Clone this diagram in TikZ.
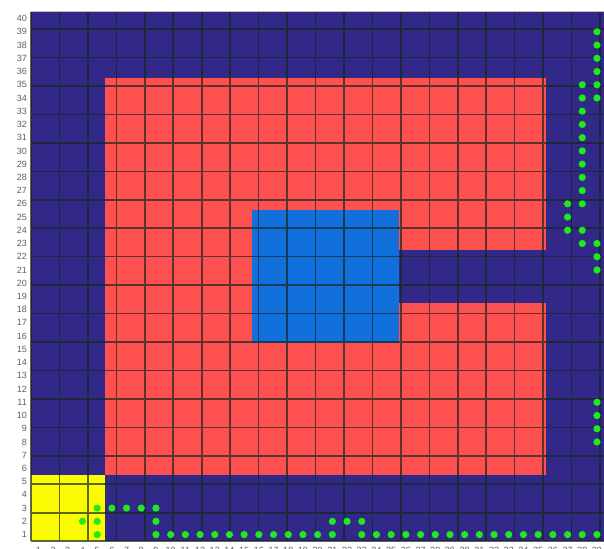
\documentclass[tikz,border=0pt]{standalone}
\usepackage{fontspec}
\setsansfont{Liberation Sans}
\definecolor{navy}{RGB}{50, 40, 135}
\definecolor{cellred}{RGB}{255, 80, 80}
\definecolor{cellblue}{RGB}{18, 112, 220}
\definecolor{cellyellow}{RGB}{252, 252, 0}
\definecolor{dotgreen}{RGB}{30, 235, 30}
\definecolor{gridink}{RGB}{20, 40, 32}
\definecolor{labelgray}{RGB}{95, 95, 95}
\tikzset{
  gridline/.style={gridink, opacity=0.7, line width=1.6pt},
  visited/.style={fill=dotgreen},
  rowlabel/.style={anchor=east, inner sep=0pt, font=\sffamily\fontsize{9}{9}\selectfont, labelgray},
  collabel/.style={anchor=north, inner sep=0pt, font=\sffamily\fontsize{9}{9}\selectfont, labelgray}
}

\begin{document}
\begin{tikzpicture}[x=14.7pt, y=13.23pt]
        \useasboundingbox (-2.109,-0.59) rectangle (38.98,40.907);
        \clip (-2.109,-0.59) rectangle (38.98,40.907);

        % cells
        \fill[navy] (0,0) rectangle (40,40);
        \fill[cellred] (5,5) rectangle (35,35);
        \fill[navy] (25,18) rectangle (35,22);
        \fill[cellblue] (15,15) rectangle (25,25);
        \fill[cellyellow] (0,0) rectangle (5,5);

        % grid and frame
        \draw[gridline] (0,0) grid (40,40);
        \draw[black!25] (0,40.08) -- (40,40.08);

        % axis labels
        \foreach \r in {1,...,40}
          \node[rowlabel] (row\r) at (-0.27,\r-0.5) {\r};
        \foreach \c in {1,...,40}
          \node[collabel] (col\c) at (\c-0.5,-0.43) {\c};

        % path along the bottom
        \foreach \c in {5,9,10,...,21,23,24,...,39}
          \fill[visited] (\c-0.5,0.5) circle (3.6pt);
        \foreach \c/\r in {4/2, 5/2, 9/2, 21/2, 22/2, 23/2, 5/3, 6/3, 7/3, 8/3, 9/3}
          \fill[visited] (\c-0.5,\r-0.5) circle (3.6pt);

        % path up the right side
        \foreach \r in {8,9,10,11,21,22,23,34,35,36,37,38,39}
          \fill[visited] (38.5,\r-0.5) circle (3.6pt);
        \foreach \r in {23,24,26,27,...,35}
          \fill[visited] (37.5,\r-0.5) circle (3.6pt);
        \foreach \r in {24,25,26}
          \fill[visited] (36.5,\r-0.5) circle (3.6pt);
\end{tikzpicture}
\end{document}
